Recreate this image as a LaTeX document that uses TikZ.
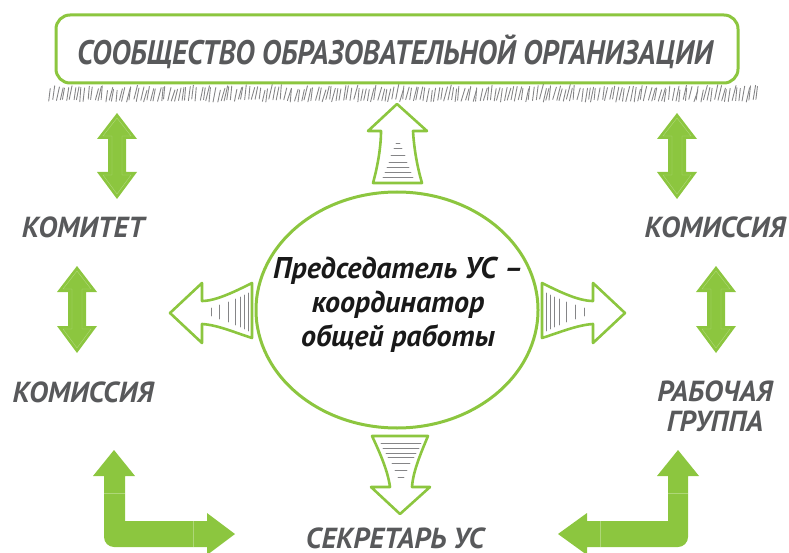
\documentclass[tikz,border=0pt]{standalone}
\usepackage{fontspec}
\usetikzlibrary{shapes.geometric}
\newfontfamily\labelfont{PT Sans}
\newfontfamily\bannerfont[FakeStretch=0.87]{PT Sans}
\definecolor{leaf}{HTML}{8CC63F}
\definecolor{ink}{HTML}{58595B}
\definecolor{hatch}{HTML}{858587}
\begin{document}
\begin{tikzpicture}[x=1pt,y=-1pt,
    unitname/.style={font=\labelfont\bfseries\itshape\fontsize{29}{30}\selectfont,text=ink,align=center,inner sep=0pt},
    bannertext/.style={font=\bannerfont\bfseries\itshape\fontsize{34}{36}\selectfont,text=ink,inner sep=0pt},
    chairtext/.style={font=\labelfont\bfseries\itshape\fontsize{30}{34}\selectfont,text=black!90,align=center,inner sep=0pt},
    bannerbox/.style={draw=leaf,fill=white,line width=3pt,rounded corners=14pt,minimum width=682,minimum height=68},
    chairbox/.style={ellipse,draw=leaf,line width=3pt,minimum width=282,minimum height=236},
    hollowarrow/.style={draw=leaf,fill=white,line width=2.6pt,line join=round},
    hatchline/.style={draw=hatch,line width=0.9pt,line cap=round},
    sheen/.style={draw=white,opacity=0.3,line width=0.4pt}]
    \useasboundingbox (0,0) rectangle (789,553);
    \pgfmathsetseed{11}
    \foreach \x in {48,51.5,...,756}
        \draw[hatchline] ({\x+rnd*2},{99+rnd*3}) -- ++({1+rnd*3},{-11-rnd*4});
    \node[bannerbox] (community) at (397,49) {};
    \node[bannertext,anchor=base] (communitytext) at (395,65) {СООБЩЕСТВО ОБРАЗОВАТЕЛЬНОЙ ОРГАНИЗАЦИИ};
    \node[unitname,anchor=base] (committee) at (83,237) {КОМИТЕТ};
    \node[unitname,anchor=base] (commleft) at (83,402) {КОМИССИЯ};
    \node[unitname,anchor=base] (commright) at (715,237) {КОМИССИЯ};
    \node[unitname] (workgroup) at (715,406) {РАБОЧАЯ\\ГРУППА};
    \node[unitname,anchor=base] (secretary) at (395,548) {СЕКРЕТАРЬ УС};
    \node[chairbox] (chair) at (397,310) {};
    \node[chairtext] (chairtext) at (398,305) {Председатель УС –\\координатор\\общей работы};
    \foreach \c/\t/\b in {117/113/199, 77/266/353, 677/113/199, 716/266/353} {
        \fill[leaf] (\c,\t) -- ({\c+20},{\t+26}) -- ({\c+9},{\t+26}) -- ({\c+9},{\b-27}) -- ({\c+20},{\b-27})
            -- (\c,\b) -- ({\c-20},{\b-27}) -- ({\c-9},{\b-27}) -- ({\c-9},{\t+26}) -- ({\c-20},{\t+26}) -- cycle;
        \draw[sheen] (\c,{\t+5}) -- ({\c+14},{\t+23}) -- ({\c+5},{\t+23}) -- ({\c+5},{\b-24}) -- ({\c+14},{\b-24})
            -- (\c,{\b-5}) -- ({\c-14},{\b-24}) -- ({\c-5},{\b-24}) -- ({\c-5},{\t+23}) -- ({\c-14},{\t+23}) -- cycle;
    }
    \fill[leaf] (114,450) -- (135,476) -- (125,476) -- (125,521) -- (207,521) -- (207,513) -- (235,534) -- (207,555)
        -- (207,547) [rounded corners=10] -- (104,547) -- (104,520) [sharp corners] -- (104,476) -- (93,476) -- cycle;
    \fill[leaf] (678,450) -- (699,476) -- (688,476) -- (688,520) [rounded corners=10] -- (688,547) -- (600,547)
        [sharp corners] -- (587,547) -- (587,555) -- (558,534) -- (587,513) -- (587,521) -- (668,521) -- (668,476) -- (657,476) -- cycle;
    \draw[sheen] (104,493) -- (125,493) (193,521) -- (193,547) (668,493) -- (688,493) (600,521) -- (600,547);
    \draw[hollowarrow] (373,183) .. controls (378,165) and (381,146) .. (381,131) -- (368,131) -- (397,104) -- (427,131)
        -- (413,131) .. controls (414,148) and (417,166) .. (422,183) -- cycle;
    \draw[hollowarrow] (372,436) -- (428,436) .. controls (420,455) and (413,472) .. (412,487) -- (430,487) -- (400,514)
        -- (371,487) -- (390,487) .. controls (388,472) and (381,455) .. (372,436) -- cycle;
    \draw[hollowarrow] (252,283) .. controls (236,291) and (216,301) .. (202,301) -- (202,283) -- (170,313) -- (202,343)
        -- (202,324) .. controls (218,325) and (236,333) .. (252,338) -- cycle;
    \draw[hollowarrow] (542,283) .. controls (558,291) and (578,301) .. (593,301) -- (593,283) -- (625,313) -- (593,343)
        -- (593,324) .. controls (577,325) and (558,333) .. (542,338) -- cycle;
    \foreach \y/\w in {143/2, 148/4, 155/7, 162/9, 167/11, 172/13, 177/15}
        \draw[hatchline] ({398-\w},\y) -- ({398+\w},\y);
    \foreach \y/\w in {443/20, 448/18, 453/15, 457/13, 463/9, 470/6, 477/3}
        \draw[hatchline] ({401-\w},\y) -- ({401+\w},\y);
    \foreach \x/\h in {248/19, 244/17, 240/15, 235/13, 228/10, 219/7, 211/4}
        \draw[hatchline] (\x,{312-\h}) -- (\x,{312+\h});
    \foreach \x/\h in {546/19, 550/17, 554/15, 559/13, 566/10, 575/7, 584/4}
        \draw[hatchline] (\x,{312-\h}) -- (\x,{312+\h});
\end{tikzpicture}
\end{document}
